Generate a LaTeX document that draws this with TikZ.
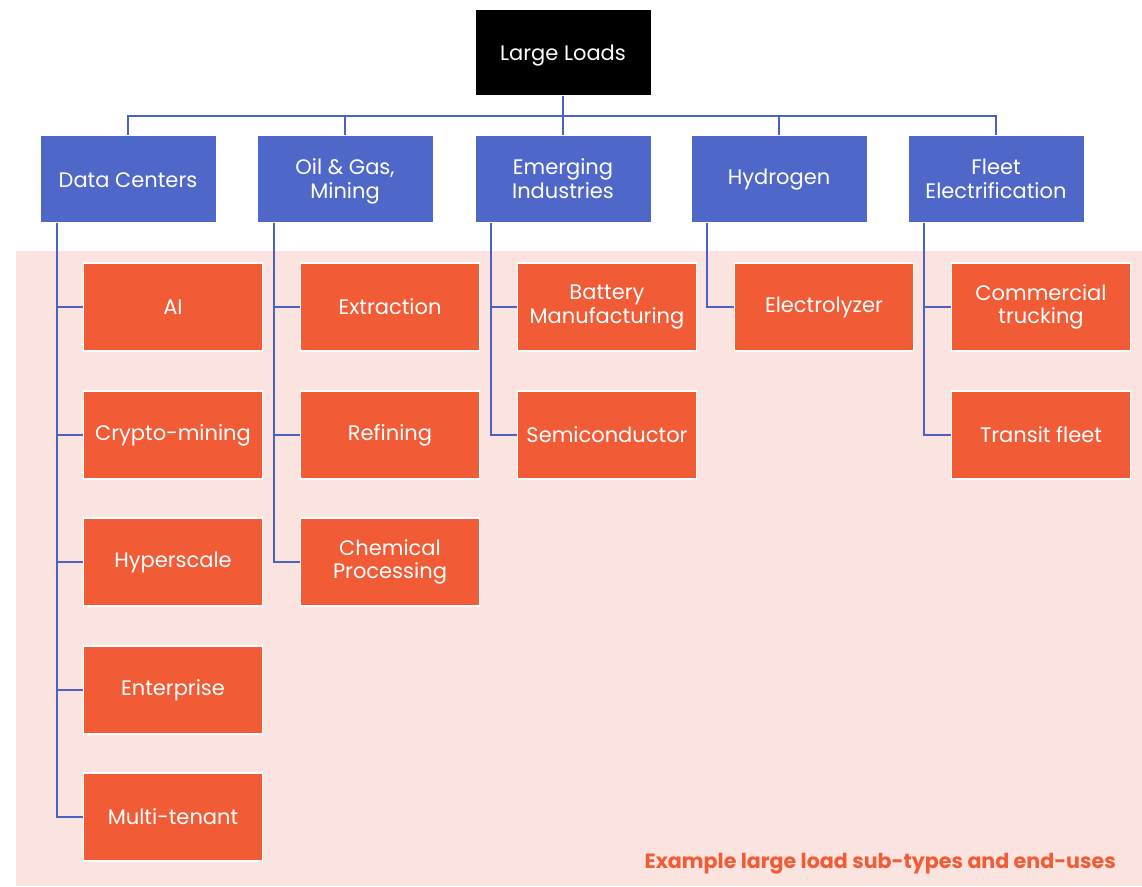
\documentclass[tikz,border=0pt]{standalone}
\usepackage{fontspec}
\setmainfont{Poppins}
\definecolor{bluebox}{HTML}{4E67C8}
\definecolor{linec}{HTML}{4A62C2}
\definecolor{orangebox}{HTML}{F15B36}
\definecolor{pinkbg}{HTML}{FBE3DF}
\newcommand{\lowertext}[2]{\raisebox{-#1}[\height][\depth]{#2}}
\tikzset{
  boxtext/.style={text=white, font=\fontsize{21}{23.5}\selectfont, align=center, inner sep=0pt},
  rootbox/.style={boxtext, fill=black, draw=white, line width=1pt, minimum width=176pt, minimum height=86pt},
  catbox/.style={boxtext, fill=bluebox, draw=white, line width=1pt, minimum width=176pt, minimum height=87pt},
  subbox/.style={boxtext, fill=orangebox, draw=white, line width=1.5pt, minimum width=179pt, minimum height=88pt},
  conn/.style={draw=linec, line width=2pt},
}
\begin{document}
\begin{tikzpicture}[x=1pt,y=-1pt]
\useasboundingbox (0,0) rectangle (1142,886);
\fill[white] (0,0) rectangle (1142,886);
\fill[pinkbg] (16,251) rectangle (1142,886);

\node[rootbox] (root) at (563,52) {\lowertext{3.5pt}{Large Loads}};
\coordinate (bus) at (563,116);

\node[catbox] (dc) at (128,178.5) {\lowertext{1.5pt}{Data Centers}};
\node[catbox] (og) at (345,178.5) {\lowertext{3.5pt}{\begin{tabular}{@{}c@{}}Oil \& Gas,\\[0pt]Mining\end{tabular}}};
\node[catbox] (em) at (563,178.5) {\lowertext{3.5pt}{\begin{tabular}{@{}c@{}}Emerging\\[0pt]Industries\end{tabular}}};
\node[catbox] (hy) at (779,178.5) {\lowertext{1.5pt}{Hydrogen}};
\node[catbox] (fl) at (996,178.5) {\lowertext{3.5pt}{\begin{tabular}{@{}c@{}}Fleet\\[0pt]Electrification\end{tabular}}};

\draw[conn] (root) -- (bus);
\foreach \c in {dc,og,em,hy,fl}{\draw[conn] (bus) -| (\c.north);}

% Data centers children
\node[subbox] (ai) at (173,307) {AI};
\node[subbox] (cr) at (173,435) {Crypto-mining};
\node[subbox] (hs) at (173,562) {Hyperscale};
\node[subbox] (en) at (173,690) {Enterprise};
\node[subbox] (mt) at (173,817) {Multi-tenant};
\foreach \c in {ai,cr,hs,en,mt}{\draw[conn] ([xshift=-71pt]dc.south) |- (\c.west);}

% Oil & gas children
\node[subbox] (ex) at (390,307) {Extraction};
\node[subbox] (rf) at (390,435) {Refining};
\node[subbox] (ch) at (390,562) {Chemical\\Processing};
\foreach \c in {ex,rf,ch}{\draw[conn] ([xshift=-71pt]og.south) |- (\c.west);}

% Emerging children
\node[subbox] (bm) at (607,307) {Battery\\Manufacturing};
\node[subbox] (sc) at (607,435) {Semiconductor};
\foreach \c in {bm,sc}{\draw[conn] ([xshift=-72pt]em.south) |- (\c.west);}

% Hydrogen children
\node[subbox] (el) at (824,307) {Electrolyzer};
\draw[conn] ([xshift=-72pt]hy.south) |- (el.west);

% Fleet children
\node[subbox] (ct) at (1041,307) {Commercial\\trucking};
\node[subbox] (tf) at (1041,435) {Transit fleet};
\foreach \c in {ct,tf}{\draw[conn] ([xshift=-72pt]fl.south) |- (\c.west);}

\node[anchor=east, text=orangebox, font=\fontsize{20.6}{24}\selectfont\bfseries, inner sep=0pt] (cap) at (1116,864) {Example large load sub-types and end-uses};
\end{tikzpicture}
\end{document}
